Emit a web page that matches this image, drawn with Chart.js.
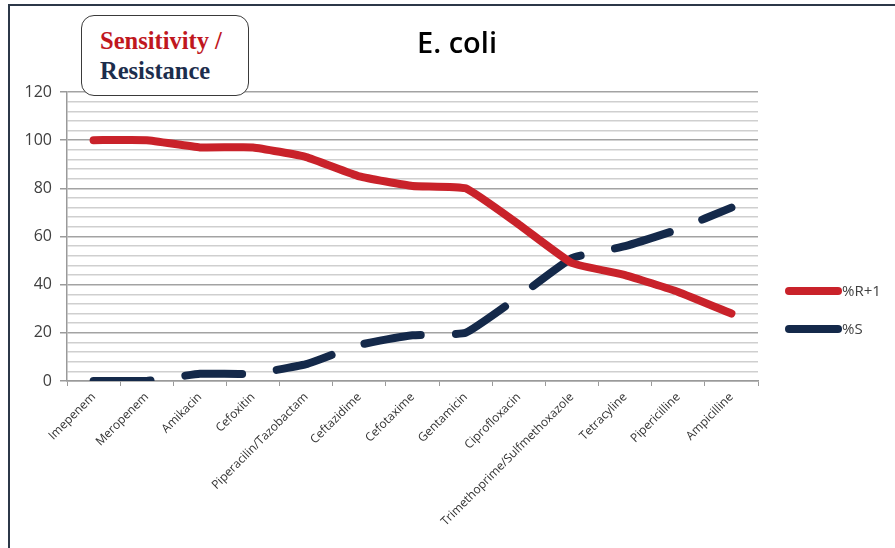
<!DOCTYPE html>
<html>
<head>
<meta charset="utf-8">
<script src="https://cdn.jsdelivr.net/npm/chart.js@4/dist/chart.umd.min.js"></script>
<style>
  html, body { margin: 0; padding: 0; background: #fff; }
  #wrap { position: relative; width: 895px; height: 548px; overflow: hidden; }
  #frame {
    position: absolute; left: 8px; top: 4px; width: 900px; height: 560px;
    border-left: 2px solid #2c3848; border-top: 2px solid #2c3848; box-sizing: border-box;
  }
  #tag {
    position: absolute; left: 81px; top: 15px; width: 168px; height: 81px;
    border: 1.5px solid #3a3a3a; border-radius: 13px; background: #fff; box-sizing: border-box;
    font-family: "Liberation Serif", serif; font-weight: bold; font-size: 24.5px; line-height: 30px;
    padding: 10px 0 0 18px; white-space: nowrap;
  }
  #tag .s { color: #c0171e; }
  #tag .r { color: #1c2d4c; }
  canvas { position: absolute; left: 0; top: 0; }
</style>
</head>
<body>
<div id="wrap">
  <canvas id="c" width="895" height="548"></canvas>
  <div id="frame"></div>
  <div id="tag"><span class="s">Sensitivity /</span><br><span class="r">Resistance</span></div>
</div>
<script>
const antibiotics = [
  "Imepenem", "Meropenem", "Amikacin", "Cefoxitin", "Piperacilin/Tazobactam",
  "Ceftazidime", "Cefotaxime", "Gentamicin", "Ciprofloxacin",
  "Trimethoprime/Sulfmethoxazole", "Tetracyline", "Pipericilline", "Ampicilline"
];
const resistancePlusOne = [100, 100, 97, 97, 93, 85, 81, 80, 65, 49, 44, 37, 28];
const sensitivity = [0, 0, 3, 3, 7, 15, 19, 20, 35, 51, 56, 63, 72];
const yTicks = [0, 20, 40, 60, 80, 100, 120];
const chartTitle = "E. coli";

const RED = "#c9222a";
const NAVY = "#14294a";

// Title and right-hand legend drawn on the canvas
const decorations = {
  id: "decorations",
  afterDraw(chart) {
    const ctx = chart.ctx;
    ctx.save();
    ctx.fillStyle = "#000";
    ctx.font = "600 29px 'Open Sans'";
    ctx.textAlign = "center";
    ctx.textBaseline = "middle";
    ctx.fillText(chartTitle, 457, 45);

    ctx.textAlign = "left";
    ctx.font = "15px 'Open Sans'";
    const rows = [291, 329];
    chart.data.datasets.forEach((ds, i) => {
      const y = rows[i];
      ctx.strokeStyle = ds.borderColor;
      ctx.lineWidth = 8;
      ctx.lineCap = "round";
      ctx.setLineDash([]);
      ctx.beginPath();
      ctx.moveTo(789, y);
      ctx.lineTo(838, y);
      ctx.stroke();
      ctx.fillStyle = "#404040";
      ctx.fillText(ds.label, 842, y + 1);
    });
    ctx.restore();
  }
};

new Chart(document.getElementById("c"), {
  type: "line",
  data: {
    labels: antibiotics,
    datasets: [
      {
        label: "%R+1",
        data: resistancePlusOne,
        borderColor: RED,
        borderWidth: 8,
        borderCapStyle: "round",
        borderJoinStyle: "round",
        tension: 0.12,
        pointRadius: 0,
        fill: false
      },
      {
        label: "%S",
        data: sensitivity,
        borderColor: NAVY,
        borderWidth: 8,
        borderDash: [57, 35],
        borderCapStyle: "round",
        borderJoinStyle: "round",
        tension: 0.12,
        pointRadius: 0,
        fill: false
      }
    ]
  },
  options: {
    responsive: false,
    animation: false,
    events: [],
    layout: { padding: { left: 8, right: 137, top: 92, bottom: 0 } },
    plugins: {
      legend: { display: false },
      title: { display: false },
      tooltip: { enabled: false }
    },
    scales: {
      x: {
        offset: true,
        afterFit(scale) { scale.height = 167; },
        grid: {
          offset: true,
          drawOnChartArea: false,
          drawTicks: true,
          tickLength: 5,
          tickColor: "#9a9a9a"
        },
        border: { display: true, color: "#9a9a9a", width: 1.5 },
        ticks: {
          autoSkip: false,
          minRotation: 45,
          maxRotation: 45,
          padding: 4,
          color: "#333",
          font: { family: "'Open Sans'", size: 12 }
        }
      },
      y: {
        min: 0,
        max: 120,
        afterFit(scale) { scale.width = 59; },
        afterBuildTicks(scale) {
          const t = [];
          for (let v = 0; v <= 120; v += 4) t.push({ value: v });
          scale.ticks = t;
        },
        grid: {
          drawTicks: true,
          tickLength: 7,
          lineWidth: 1.5,
          color: (c) => (c.tick && yTicks.includes(c.tick.value)) ? "#a3a3a3" : "#cfcfcf",
          tickColor: (c) => (c.tick && yTicks.includes(c.tick.value)) ? "#9a9a9a" : "rgba(0,0,0,0)"
        },
        border: { display: true, color: "#9a9a9a", width: 1.5 },
        ticks: {
          autoSkip: false,
          padding: 8,
          color: "#404040",
          font: { family: "'Open Sans'", size: 16 },
          callback: (v) => yTicks.includes(v) ? String(v) : ""
        }
      }
    }
  },
  plugins: [decorations]
});
</script>
</body>
</html>
